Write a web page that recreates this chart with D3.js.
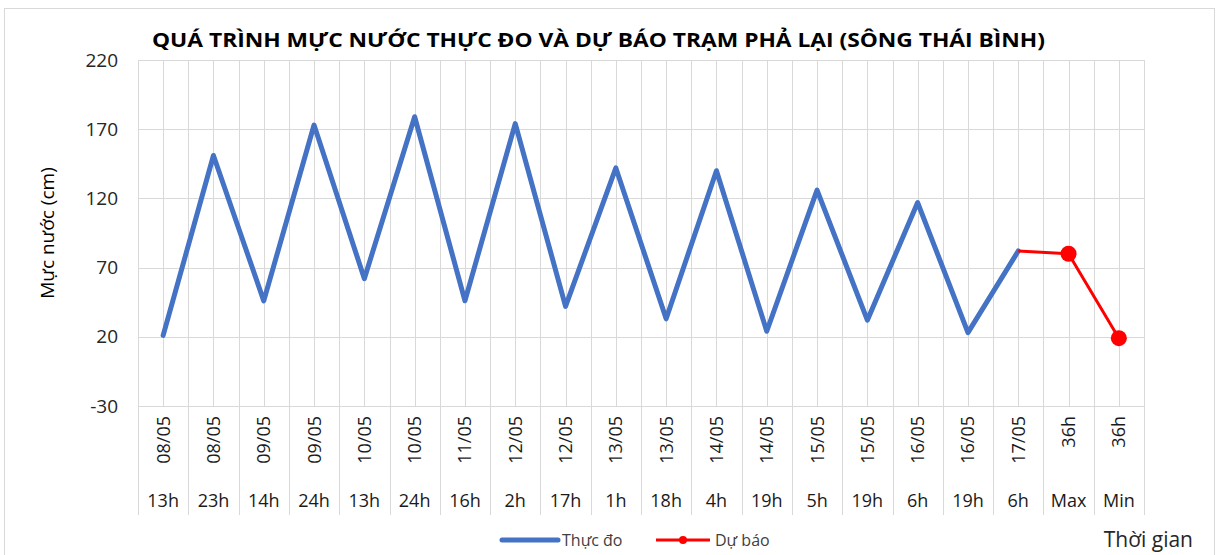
<!DOCTYPE html>
<html>
<head>
<meta charset="utf-8">
<script src="https://cdn.jsdelivr.net/npm/d3@7"></script>
<style>
  body { margin: 0; background: #fff; }
  text { font-family: "Open Sans", "Noto Sans", sans-serif; }
</style>
</head>
<body>
<div id="chart"></div>
<script>
// data
let dates = ['08/05','08/05','09/05','09/05','10/05','10/05','11/05','12/05','12/05','13/05',
	'13/05','14/05','14/05','15/05','15/05','16/05','16/05','17/05','36h','36h']
let hours = ['13h','23h','14h','24h','13h','24h','16h','2h','17h','1h',
	'18h','4h','19h','5h','19h','6h','19h','6h','Max','Min']
let actual = [21,151,46,173,62,179,46,174,42,142,33,140,24,126,32,117,23,82,null,null]
let forecast = [null,null,null,null,null,null,null,null,null,null,
	null,null,null,null,null,null,null,82,80,19]
let yTicks = [-30,20,70,120,170,220]

let width = 1217
let height = 555
let plotLeft = 138, plotRight = 1144, plotTop = 60, plotBottom = 406

const svg = d3.select('#chart')
	.append('svg')
	.attr('width', width)
	.attr('height', height)

// outer chart border
svg.append('rect')
	.attr('x', 4.5).attr('y', 8.5)
	.attr('width', 1210).attr('height', 570)
	.attr('fill', 'none')
	.attr('stroke', '#d9d9d9')

let xScale = d3.scaleBand()
	.domain(d3.range(hours.length))
	.range([plotLeft, plotRight])
let bw = xScale.bandwidth()
let cx = i => xScale(i) + bw / 2

let yScale = d3.scaleLinear()
	.domain([-30, 220])
	.range([plotBottom, plotTop])

// vertical grid every half category
let vLines = []
hours.forEach(function(d, i){ vLines.push(xScale(i), cx(i)) })
vLines.push(plotRight)

svg.selectAll('.vgrid')
	.data(vLines)
	.enter()
	.append('line')
	.attr('x1', d => Math.round(d) + 0.5)
	.attr('x2', d => Math.round(d) + 0.5)
	.attr('y1', plotTop)
	.attr('y2', plotBottom)
	.attr('stroke', '#d9d9d9')

svg.selectAll('.hgrid')
	.data(yTicks)
	.enter()
	.append('line')
	.attr('x1', plotLeft)
	.attr('x2', plotRight)
	.attr('y1', d => Math.round(yScale(d)) + 0.5)
	.attr('y2', d => Math.round(yScale(d)) + 0.5)
	.attr('stroke', '#d9d9d9')

// category separators under the plot
let seps = hours.map((d, i) => xScale(i))
seps.push(plotRight)
svg.selectAll('.sep')
	.data(seps)
	.enter()
	.append('line')
	.attr('x1', d => Math.round(d) + 0.5)
	.attr('x2', d => Math.round(d) + 0.5)
	.attr('y1', plotBottom)
	.attr('y2', 515)
	.attr('stroke', '#d9d9d9')

// y axis
let yG = svg.append('g')
	.attr('transform', `translate(${plotLeft},0)`)
	.call(d3.axisLeft(yScale).tickValues(yTicks).tickSize(0).tickPadding(20)
		.tickFormat(d => String(d)))
yG.select('.domain').remove()
yG.selectAll('text').attr('fill', '#262626').attr('font-size', 19)
	.style('font-family', '"Open Sans", sans-serif')

// category labels
svg.selectAll('.dateLabel')
	.data(dates)
	.enter()
	.append('text')
	.attr('transform', (d, i) => `translate(${cx(i)},416) rotate(-90)`)
	.attr('text-anchor', 'end')
	.attr('dy', '0.36em')
	.attr('font-size', 18)
	.attr('fill', '#1a1a1a')
	.text(d => d)

svg.selectAll('.hourLabel')
	.data(hours)
	.enter()
	.append('text')
	.attr('x', (d, i) => cx(i))
	.attr('y', 507)
	.attr('text-anchor', 'middle')
	.attr('font-size', 18)
	.attr('fill', '#1a1a1a')
	.text(d => d)

// series
let lineGen = d3.line()
	.defined(d => d != null)
	.x((d, i) => cx(i))
	.y(d => yScale(d))

svg.append('path')
	.datum(actual)
	.attr('d', lineGen)
	.attr('fill', 'none')
	.attr('stroke', '#4472C4')
	.attr('stroke-width', 5)
	.attr('stroke-linejoin', 'round')
	.attr('stroke-linecap', 'round')

svg.append('path')
	.datum(forecast)
	.attr('d', lineGen)
	.attr('fill', 'none')
	.attr('stroke', '#FF0000')
	.attr('stroke-width', 3)
	.attr('stroke-linejoin', 'round')

svg.selectAll('.fcDot')
	.data(forecast.map((v, i) => ({v: v, i: i})).filter(d => d.v != null && hours[d.i].length == 3))
	.enter()
	.append('circle')
	.attr('cx', d => cx(d.i))
	.attr('cy', d => yScale(d.v))
	.attr('r', 8)
	.attr('fill', '#FF0000')

// title and axis titles
svg.append('text')
	.attr('x', 152)
	.attr('y', 47)
	.attr('font-size', 20)
	.attr('font-weight', 'bold')
	.attr('fill', '#000')
	.attr('textLength', 893)
	.attr('lengthAdjust', 'spacingAndGlyphs')
	.text('QUÁ TRÌNH MỰC NƯỚC THỰC ĐO VÀ DỰ BÁO TRẠM PHẢ LẠI (SÔNG THÁI BÌNH)')

svg.append('text')
	.attr('transform', `translate(47,${(plotTop + plotBottom) / 2}) rotate(-90)`)
	.attr('text-anchor', 'middle')
	.attr('dy', '0.35em')
	.attr('font-size', 19)
	.attr('fill', '#000')
	.text('Mực nước (cm)')

svg.append('text')
	.attr('x', 1193)
	.attr('y', 547)
	.attr('text-anchor', 'end')
	.attr('font-size', 21)
	.attr('fill', '#262626')
	.text('Thời gian')

// legend
let legend = svg.append('g').attr('transform', 'translate(0,540)')
legend.append('line')
	.attr('x1', 502).attr('x2', 558)
	.attr('stroke', '#4472C4').attr('stroke-width', 5).attr('stroke-linecap', 'round')
legend.append('text')
	.attr('x', 562).attr('dy', '0.35em')
	.attr('font-size', 16).attr('fill', '#404040')
	.text('Thực đo')
legend.append('line')
	.attr('x1', 656).attr('x2', 710)
	.attr('stroke', '#FF0000').attr('stroke-width', 3)
legend.append('circle')
	.attr('cx', 683).attr('r', 4)
	.attr('fill', '#FF0000')
legend.append('text')
	.attr('x', 715).attr('dy', '0.35em')
	.attr('font-size', 16).attr('fill', '#404040')
	.text('Dự báo')
</script>
</body>
</html>
